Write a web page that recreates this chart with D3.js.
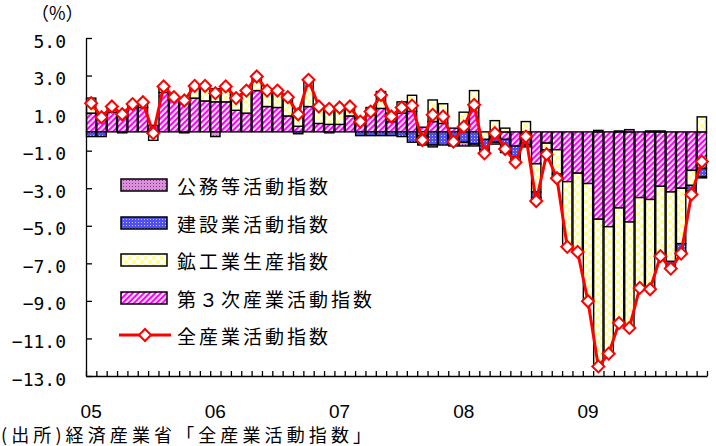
<!DOCTYPE html>
<html>
<head>
<meta charset="utf-8">
<script src="https://cdn.jsdelivr.net/npm/d3@7"></script>
<style>
body{margin:0;background:#fff;}
svg{display:block;}
</style>
</head>
<body>
<div id="chart"></div>
<script>
// 2005/01 - 2009/12 monthly, contribution by sector (%)
var months = d3.range(60);
var yearLabels = ["05", "06", "07", "08", "09"];
var seriesNames = ["第３次産業活動指数", "鉱工業生産指数", "建設業活動指数", "公務等活動指数"];
var lineName = "全産業活動指数";

var tertiary = [1.0,0.95,1.05,1.0,1.3,1.3,0.35,2.1,1.8,1.6,1.8,1.65,
  1.6,1.6,1.15,1.0,2.2,1.35,1.3,0.85,0.3,1.35,0.45,0.4,
  0.4,0.85,0.4,0.9,1.25,0.55,1.0,1.1,0.25,0.55,0.45,0.2,
  0.35,1.3,0.0,0.0,-0.4,-0.75,-0.35,-1.7,-0.6,-0.95,-2.65,-2.2,
  -2.75,-4.65,-5.05,-4.05,-4.8,-3.5,-3.6,-2.9,-3.2,-3.0,-2.05,-1.95];
var mining = [0.8,0.05,0.3,0.0,0.2,0.3,-0.45,0.3,0.05,0.05,0.65,0.8,
  0.7,0.85,0.65,1.2,0.75,0.85,0.9,1.0,0.7,1.4,0.95,0.85,
  0.9,0.5,0.35,0.4,0.9,0.45,0.6,0.85,-0.2,1.15,1.05,0.0,
  0.7,0.9,-0.4,0.6,0.2,0.0,0.55,-1.5,-0.35,-1.3,-3.45,-4.2,
  -6.25,-7.85,-6.75,-6.1,-5.65,-4.8,-4.8,-3.7,-3.7,-2.95,-0.8,0.8];
var construction = [-0.25,-0.25,0,-0.05,0,0,0,0,0,-0.05,0,0,
  0,0,0,0,0,0,0,0,-0.1,0,0,-0.05,
  0,0,-0.2,-0.2,-0.2,-0.2,-0.25,-0.55,-0.5,-0.7,-0.7,-0.75,
  -0.55,-0.65,-0.55,-0.55,-0.55,-0.6,-0.35,-0.3,-0.2,-0.2,0,0,
  0,0,0,0,0,0,0,0,-0.35,-0.4,-0.45,-0.45];
var publicSvc = [0,0,0,0,0,0,0,0,0,0,0,0,
  -0.25,0,0,0,0,0,0,0,0,0,0,0,
  0,0,0,0,0,0,0,0,0,-0.1,0,0,
  -0.2,-0.1,-0.2,-0.1,-0.15,-0.25,-0.1,-0.15,0,0,0,0,
  0,0.08,0,0.05,0.12,0,0.05,0.05,0,-0.1,0,-0.05];
var allIndustry = [1.53,0.78,1.35,0.94,1.48,1.58,-0.07,2.42,1.85,1.67,2.45,2.45,
  2.06,2.42,1.8,2.2,2.95,2.2,2.2,1.85,0.94,2.77,1.35,1.23,
  1.3,1.35,0.55,1.08,1.97,0.82,1.3,1.4,-0.43,0.91,0.82,-0.52,
  0.28,1.44,-1.14,-0.07,-0.91,-1.62,-0.25,-3.68,-1.19,-2.47,-6.12,-6.39,
  -9.02,-12.49,-11.81,-10.18,-10.44,-8.31,-8.38,-6.62,-7.28,-6.48,-3.33,-1.58];
var yTicks = d3.range(-13, 6, 2);

var W = 716, H = 446;
var plotL = 86, plotR = 707, plotT = 38, plotB = 376;

var svg = d3.select("#chart").append("svg")
  .attr("width", W).attr("height", H);

// patterns
var defs = svg.append("defs");
var pat = defs.append("pattern").attr("id", "pTer").attr("patternUnits", "userSpaceOnUse")
  .attr("width", 4).attr("height", 4).attr("patternTransform", "rotate(45)");
pat.append("rect").attr("width", 4).attr("height", 4).attr("fill", "#fff");
pat.append("rect").attr("width", 2.2).attr("height", 4).attr("fill", "#ff00ff");

pat = defs.append("pattern").attr("id", "pMin").attr("patternUnits", "userSpaceOnUse")
  .attr("width", 8).attr("height", 8);
pat.append("rect").attr("width", 8).attr("height", 8).attr("fill", "#fff");
pat.append("rect").attr("width", 4).attr("height", 4).attr("fill", "#ffff99");
pat.append("rect").attr("x", 4).attr("y", 4).attr("width", 4).attr("height", 4).attr("fill", "#ffff99");

pat = defs.append("pattern").attr("id", "pCon").attr("patternUnits", "userSpaceOnUse")
  .attr("width", 3).attr("height", 3);
pat.append("rect").attr("width", 3).attr("height", 3).attr("fill", "#5050f0");
pat.append("rect").attr("width", 1).attr("height", 1).attr("fill", "#c8c8ff");

pat = defs.append("pattern").attr("id", "pPub").attr("patternUnits", "userSpaceOnUse")
  .attr("width", 3).attr("height", 3);
pat.append("rect").attr("width", 3).attr("height", 3).attr("fill", "#d890d8");
pat.append("rect").attr("width", 1).attr("height", 1).attr("fill", "#903090");

var fills = ["url(#pTer)", "url(#pMin)", "url(#pCon)", "url(#pPub)"];
var series = [tertiary, mining, construction, publicSvc];

var x = d3.scaleBand().domain(months).range([plotL, plotR]).paddingInner(0.1).paddingOuter(0.05);
var xLin = d3.scaleLinear().domain([0, 60]).range([plotL, plotR]);
var y = d3.scaleLinear().domain([-13, 5]).range([plotB, plotT]);

// stacked segments, positives up and negatives down from zero
var segs = [];
months.forEach(function(i){
  var pos = 0, neg = 0;
  series.forEach(function(s, k){
    var v = s[i];
    if (v === 0) return;
    var y0, y1;
    if (v > 0) { y0 = pos; y1 = pos + v; pos = y1; }
    else { y0 = neg; y1 = neg + v; neg = y1; }
    segs.push({i: i, k: k, y0: y0, y1: y1});
  });
});

svg.append("g").selectAll("rect").data(segs).enter().append("rect")
  .attr("x", function(d){ return x(d.i); })
  .attr("width", x.bandwidth())
  .attr("y", function(d){ return y(Math.max(d.y0, d.y1)); })
  .attr("height", function(d){ return Math.abs(y(d.y0) - y(d.y1)); })
  .attr("fill", function(d){ return fills[d.k]; })
  .attr("stroke", "#000").attr("stroke-width", 1.4);

// axes
svg.append("g").attr("transform", "translate(" + plotL + ",0)")
  .call(d3.axisLeft(y).tickValues(yTicks).tickSize(-6).tickSizeOuter(0).tickFormat(""));
svg.append("g").attr("transform", "translate(0," + plotB + ")")
  .call(d3.axisBottom(xLin).tickValues(d3.range(0, 61)).tickSize(-5).tickSizeOuter(0).tickFormat(""));
svg.selectAll(".domain, .tick line").attr("stroke", "#000").attr("stroke-width", 1.3);

svg.append("g").selectAll("text").data(yTicks).enter().append("text")
  .attr("x", 66).attr("y", function(d){ return y(d) + 3; })
  .attr("text-anchor", "end").attr("dominant-baseline", "central")
  .attr("font-family", "DejaVu Sans Mono").attr("font-size", 18)
  .text(function(d){ return (d < 0 ? "\u2212" : "") + Math.abs(d).toFixed(1); });

svg.append("g").selectAll("text").data(yearLabels).enter().append("text")
  .attr("x", function(d, j){ return x(j * 12) + x.bandwidth() / 2; })
  .attr("y", 418).attr("text-anchor", "middle")
  .attr("font-family", "Liberation Sans").attr("font-size", 19)
  .text(function(d){ return d; });

svg.append("text").attr("x", 31).attr("y", 20)
  .attr("font-family", "Noto Sans CJK JP").attr("font-size", 18)
  .text("（%）");

svg.append("text").attr("x", 1).attr("y", 442)
  .attr("font-family", "Noto Sans CJK JP").attr("font-size", 18)
  .attr("textLength", 370).attr("lengthAdjust", "spacing")
  .text("(出所)経済産業省「全産業活動指数」");

// total line
var cx = function(i){ return x(i) + x.bandwidth() / 2; };
var line = d3.line().x(function(d, i){ return cx(i); }).y(function(d){ return y(d); });
svg.append("path").datum(allIndustry).attr("d", line)
  .attr("fill", "none").attr("stroke", "#ff0000").attr("stroke-width", 3);

var diamond = d3.symbol().type(d3.symbolSquare).size(72);
svg.append("g").selectAll("path").data(allIndustry).enter().append("path")
  .attr("d", diamond)
  .attr("transform", function(d, i){ return "translate(" + cx(i) + "," + y(d) + ") rotate(45)"; })
  .attr("fill", "#fff").attr("stroke", "#ff0000").attr("stroke-width", 2);

// legend
var legendRows = [185, 223, 260, 298];
var legendOrder = [3, 2, 1, 0];
var lg = svg.append("g");
legendOrder.forEach(function(k, r){
  lg.append("rect").attr("x", 121).attr("y", legendRows[r] - 6).attr("width", 46).attr("height", 12)
    .attr("fill", fills[k]).attr("stroke", "#000").attr("stroke-width", 1.5);
  lg.append("text").attr("x", 177).attr("y", legendRows[r]).attr("dominant-baseline", "central")
    .attr("font-family", "Noto Sans CJK JP").attr("font-size", 19).attr("letter-spacing", 3)
    .text(seriesNames[k]);
});
lg.append("line").attr("x1", 119).attr("x2", 171).attr("y1", 335).attr("y2", 335)
  .attr("stroke", "#ff0000").attr("stroke-width", 3);
lg.append("path").attr("d", diamond).attr("transform", "translate(145,335) rotate(45)")
  .attr("fill", "#fff").attr("stroke", "#ff0000").attr("stroke-width", 2);
lg.append("text").attr("x", 177).attr("y", 335).attr("dominant-baseline", "central")
  .attr("font-family", "Noto Sans CJK JP").attr("font-size", 19).attr("letter-spacing", 3)
  .text(lineName);
</script>
</body>
</html>
